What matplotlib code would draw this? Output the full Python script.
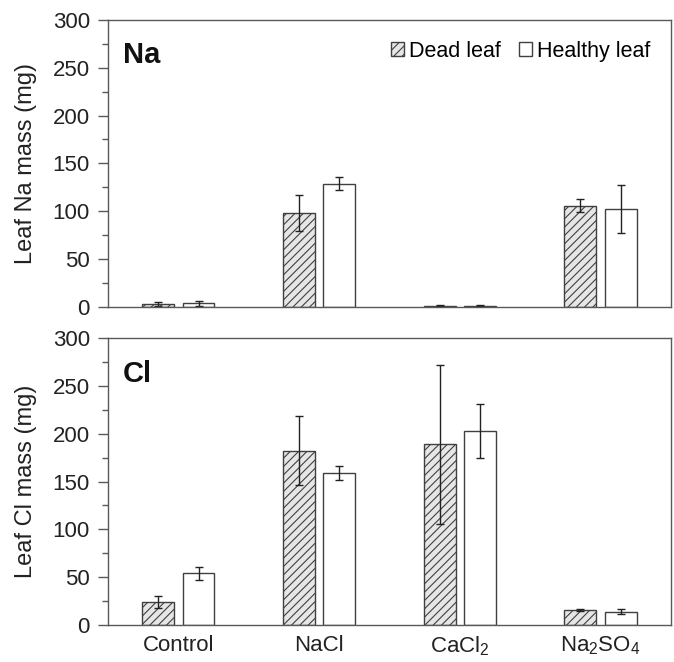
import matplotlib
matplotlib.use('Agg')
import matplotlib.pyplot as plt
import numpy as np

plt.rcParams['font.family'] = ['Liberation Sans', 'DejaVu Sans']
plt.rcParams['mathtext.fontset'] = 'custom'
plt.rcParams['mathtext.rm'] = 'Liberation Sans'
plt.rcParams['hatch.color'] = '#555555'
plt.rcParams['hatch.linewidth'] = 0.8

treatments = ['Control', 'NaCl', r'$\mathregular{CaCl_2}$', r'$\mathregular{Na_2SO_4}$']
series = ['Dead leaf', 'Healthy leaf']

# Na (mg)
na_dead = [3, 98, 1.5, 106]
na_dead_err = [2, 19, 0.8, 7]
na_healthy = [4, 129, 1.5, 102]
na_healthy_err = [2.5, 7, 0.8, 25]

# Cl (mg)
cl_dead = [24, 182, 189, 16]
cl_dead_err = [6.5, 36, 83, 1]
cl_healthy = [54, 159, 203, 14]
cl_healthy_err = [7, 7.5, 28, 3]

EDGE = '#404040'
SPINE = '#595959'

fig = plt.figure(figsize=(6.74, 6.62), dpi=100)
ax1 = fig.add_axes([0.160, 0.5363, 0.8355, 0.4337])
ax2 = fig.add_axes([0.160, 0.0559, 0.8355, 0.4335])

x = np.arange(len(treatments))
w = 0.227
off = 0.144

panels = [(ax1, 'Na', 'Leaf Na mass (mg)', na_dead, na_dead_err, na_healthy, na_healthy_err),
          (ax2, 'Cl', 'Leaf Cl mass (mg)', cl_dead, cl_dead_err, cl_healthy, cl_healthy_err)]

for ax, tag, ylab, d, de, h, he in panels:
    ax.bar(x - off, d, w, yerr=de, color='#e6e6e6', edgecolor=EDGE, linewidth=1.0,
           hatch='////', label=series[0],
           error_kw=dict(ecolor='#222222', elinewidth=1.0, capsize=3, capthick=1.0))
    ax.bar(x + off, h, w, yerr=he, color='white', edgecolor=EDGE, linewidth=1.0,
           label=series[1],
           error_kw=dict(ecolor='#222222', elinewidth=1.0, capsize=3, capthick=1.0))
    ax.set_xlim(-0.5, 3.5)
    ax.set_ylim(0, 300)
    ax.set_yticks(np.arange(0, 301, 50))
    ax.set_yticks(np.arange(25, 300, 50), minor=True)
    ax.tick_params(axis='y', which='major', direction='out', length=7, width=1.0,
                   color=SPINE, labelsize=16, labelcolor='#222222', pad=6)
    ax.tick_params(axis='y', which='minor', direction='out', length=4, width=1.0, color=SPINE)
    ax.tick_params(axis='x', length=0, labelsize=16, labelcolor='#222222', pad=7)
    for s in ax.spines.values():
        s.set_color(SPINE)
        s.set_linewidth(1.0)
    ax.set_ylabel(ylab, fontsize=17, color='#222222', labelpad=11)
    ax.text(0.027, 0.925, tag, transform=ax.transAxes, fontsize=21, fontweight='bold',
            va='top', ha='left', color='#111111')

ax1.set_xticks(x)
ax1.set_xticklabels([])
ax2.set_xticks(x)
ax2.set_xticklabels(treatments)

ax1.legend(loc='upper right', bbox_to_anchor=(0.99, 0.98), ncol=2, frameon=False,
           fontsize=15.5, handlelength=0.6, handleheight=0.6, handletextpad=0.25,
           columnspacing=0.8, borderaxespad=0.3)

fig.savefig('out.png', dpi=100)
